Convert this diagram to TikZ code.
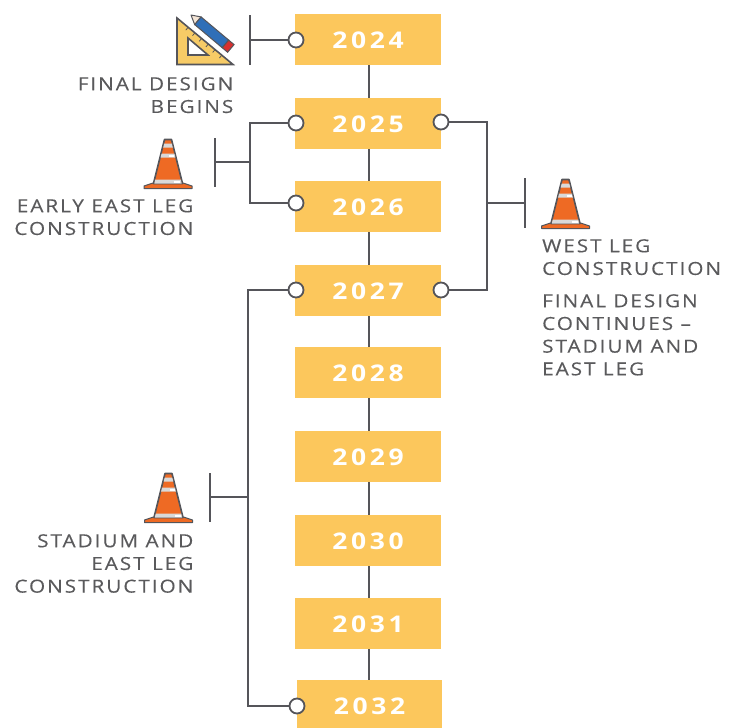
\documentclass[tikz,border=0pt]{standalone}
\usepackage{fontspec}
\usetikzlibrary{calc}
\setmainfont{Open Sans}[LetterSpace=11,FakeStretch=1.15,FakeBold=0.25]
\newfontfamily\yearfont{Open Sans}[LetterSpace=16,FakeStretch=1.15]
\definecolor{boxy}{HTML}{FCC75C}
\definecolor{linec}{HTML}{55555A}
\definecolor{txtc}{HTML}{5A5A5C}
\definecolor{conor}{HTML}{EE6A24}
\definecolor{cong}{HTML}{D9D9D9}
\definecolor{icony}{HTML}{F7CB66}
\definecolor{pencb}{HTML}{2F6FB8}
\definecolor{pencr}{HTML}{D8302F}
\tikzset{
  yearbox/.style={fill=boxy,draw=none,minimum width=146pt,minimum height=51pt,inner sep=0pt,text=white,text height=18.4pt,text depth=0pt,font=\fontsize{23}{25}\selectfont\yearfont\bfseries},
  dot/.style={circle,draw=linec,fill=white,line width=1.8pt,minimum size=15pt,inner sep=0pt},
  conn/.style={draw=linec,line width=2pt},
  tbar/.style={draw=linec,line width=2.2pt},
  lab/.style={text=txtc,inner sep=0pt,font=\fontsize{18}{22.7}\selectfont},
  pics/cone/.style={code={
    \fill[conor,draw=linec,line width=1pt,line join=round] (-24,-1)--(24,-1)--(24,-3.5)--(15,-6.5)--(-15,-6.5)--(-24,-3.5)--cycle;
    \fill[conor,draw=linec,line width=1.6pt,line join=round] (-14.5,-6)--(-3.5,-50)--(3.5,-50)--(14.5,-6)--cycle;
    \fill[cong] (-13.7,-6)--(-12.7,-10)--(12.7,-10)--(13.7,-6)--cycle;
    \fill[cong] (-7.4,-32)--(-6.4,-36)--(6.4,-36)--(7.4,-32)--cycle;
    \fill[cong] (-4.8,-42)--(-3.8,-46)--(3.8,-46)--(4.8,-42)--cycle;
    \fill[white] (1,-33) rectangle (6,-35);
    \fill[white] (6,-7) rectangle (12,-9);
  }},
}
\begin{document}
\begin{tikzpicture}[x=1pt,y=-1pt]
\useasboundingbox (0,0) rectangle (737,728);
\fill[white] (0,0) rectangle (737,728);
% boxes
\node[yearbox] (y24) at (368,39.5) {2024};
\node[yearbox] (y25) at (368,123.5) {2025};
\node[yearbox] (y26) at (368,206.5) {2026};
\node[yearbox] (y27) at (368,290.5) {2027};
\node[yearbox] (y28) at (368,372.5) {2028};
\node[yearbox] (y29) at (368,456.5) {2029};
\node[yearbox] (y30) at (368,540.5) {2030};
\node[yearbox] (y31) at (368,623.5) {2031};
\node[yearbox,minimum width=145pt] (y32) at (369.5,705.5) {2032};
% spine
\coordinate (spine) at (369,0);
\foreach \a/\b in {y24/y25,y25/y26,y26/y27,y27/y28,y28/y29,y29/y30,y30/y31,y31/y32}
  \draw[conn] (\a.south -| spine) -- (\b.north -| spine);
% dots
\node[dot] (d24) at (296,40) {};
\node[dot] (d25l) at (296,123) {};
\node[dot] (d26) at (296,203) {};
\node[dot] (d27l) at (296,290) {};
\node[dot] (d32) at (297,706) {};
\node[dot] (d25r) at (441,122) {};
\node[dot] (d27r) at (441,290) {};
% junctions
\coordinate (b24) at (250,40);
\coordinate (b24t) at (250,15);
\coordinate (b24b) at (250,65);
\coordinate (jA) at (250,162);
\coordinate (sA) at (215,162);
\coordinate (sAt) at (215,138);
\coordinate (sAb) at (215,187);
\coordinate (jB) at (487,203);
\coordinate (sB) at (525,203);
\coordinate (sBt) at (525,178);
\coordinate (sBb) at (525,228);
\coordinate (jC) at (248,497);
\coordinate (sC) at (210,497);
\coordinate (sCt) at (210,473);
\coordinate (sCb) at (210,522);
\draw[tbar] (b24t) -- (b24b);
\draw[conn] (d24) -- (b24);
\draw[conn] (d25l) -| (jA) |- (d26);
\draw[conn] (jA) -- (sA);
\draw[tbar] (sAt) -- (sAb);
\draw[conn] (d25r) -| (jB) |- (d27r);
\draw[conn] (jB) -- (sB);
\draw[tbar] (sBt) -- (sBb);
\draw[conn] (d27l) -| (jC) |- (d32);
\draw[conn] (jC) -- (sC);
\draw[tbar] (sCt) -- (sCb);
% cones
\pic at (168,189.5) {cone};
\pic at (565.5,229.5) {cone};
\pic at (168.5,523.5) {cone};
% set square icon
\fill[icony,draw=linec,line width=1.6pt,line join=miter,even odd rule]
  (177,18)--(177,64.5)--(233,64.5)--cycle (188,38)--(188,55)--(208,55)--cycle;
\foreach \t in {0.2,0.32,0.44,0.56,0.68,0.8}
  \draw[linec,line width=.8pt] ($(177,18)!\t!(233,64.5)$) -- ++(-2.4,2.8);
% pencil
\begin{scope}[shift={(191,15)},rotate=-40]
  \fill[cong!70!orange!40!white,draw=linec,line width=1pt,line join=round] (0,0)--(9,-5)--(9,5)--cycle;
  \fill[pencb,draw=linec,line width=1pt] (9,-5) rectangle (45,5);
  \fill[pencr,draw=linec,line width=1pt] (45,-5) rectangle (52,5);
\end{scope}
% labels
\node[lab,align=right,anchor=north east] (t1) at (233.5,77) {FINAL DESIGN\\BEGINS};
\node[lab,align=right,anchor=north east] (t2) at (193.5,199) {EARLY EAST LEG\\CONSTRUCTION};
\node[lab,align=left,anchor=north west] (t3) at (542,239) {WEST LEG\\CONSTRUCTION};
\node[lab,align=left,anchor=north west] (t4) at (542,294) {FINAL DESIGN\\CONTINUES –\\STADIUM AND\\EAST LEG};
\node[lab,align=right,anchor=north east] (t5) at (193.5,534) {STADIUM AND\\EAST LEG\\CONSTRUCTION};
\end{tikzpicture}
\end{document}
